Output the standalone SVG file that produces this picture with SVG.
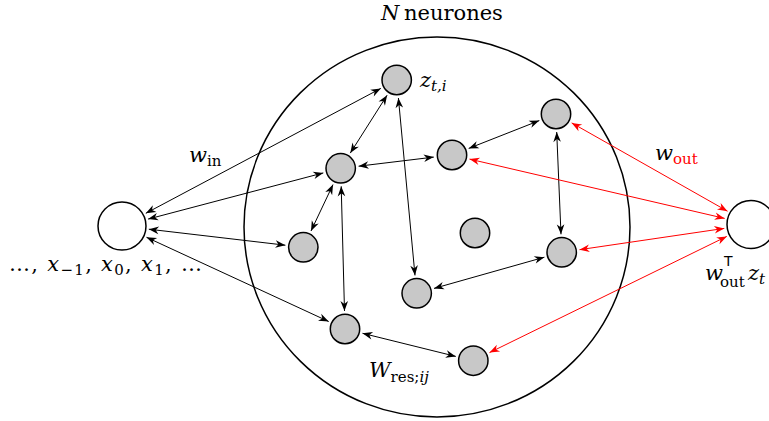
<svg xmlns="http://www.w3.org/2000/svg" width="769" height="421" viewBox="0 0 769 421">
<style>
  .res { fill: #c8c8c8; stroke: #000; stroke-width: 1.5; }
  .io { fill: #fff; stroke: #000; stroke-width: 1.5; }
  .big { fill: none; stroke: #000; stroke-width: 1.5; }
  .e { stroke: #000; stroke-width: 1; fill: none; marker-start: url(#ab); marker-end: url(#ab); }
  .r { stroke: #ff0000; stroke-width: 1; fill: none; marker-start: url(#ar); marker-end: url(#ar); }
  .lbl { font-family: "DejaVu Serif", serif; font-size: 21px; fill: #000; }
  .m { font-style: italic; }
  .sub { font-size: 15px; font-style: normal; }
  .subi { font-size: 15px; font-style: italic; }
  .sf { font-family: "DejaVu Sans", "Liberation Sans", sans-serif; font-size: 14px; }
</style>
<defs>
  <marker id="ab" viewBox="-11 -5 12 10" refX="0" refY="0" markerWidth="12" markerHeight="10" markerUnits="userSpaceOnUse" orient="auto-start-reverse">
    <path d="M0,0 L-10,-3.8 L-7,0 L-10,3.8 Z" fill="#000"/>
  </marker>
  <marker id="ar" viewBox="-11 -5 12 10" refX="0" refY="0" markerWidth="12" markerHeight="10" markerUnits="userSpaceOnUse" orient="auto-start-reverse">
    <path d="M0,0 L-10,-3.8 L-7,0 L-10,3.8 Z" fill="#ff0000"/>
  </marker>
</defs>

<g id="reservoir">
  <ellipse class="big" cx="437" cy="227" rx="193" ry="190"/>
</g>

<g id="connectors">
  <line class="e" x1="145.8" y1="213.3" x2="380.8" y2="88.4"/>
  <line class="e" x1="148.1" y1="219.1" x2="323.3" y2="172.9"/>
  <line class="e" x1="148.8" y1="229.2" x2="285.4" y2="245.2"/>
  <line class="e" x1="146.5" y1="237.3" x2="328.7" y2="321.5"/>
  <line class="e" x1="387.1" y1="95.2" x2="350.3" y2="153.1"/>
  <line class="e" x1="398.4" y1="98" x2="415" y2="275.4"/>
  <line class="e" x1="358.6" y1="166.2" x2="433.8" y2="157.1"/>
  <line class="e" x1="333" y1="184.6" x2="311" y2="231"/>
  <line class="e" x1="341.2" y1="186.3" x2="344.5" y2="311"/>
  <line class="e" x1="468.7" y1="148.4" x2="539.3" y2="120.6"/>
  <line class="e" x1="556.7" y1="132" x2="561" y2="234.3"/>
  <line class="e" x1="434" y1="288.4" x2="544.4" y2="257.2"/>
  <line class="e" x1="362.5" y1="333.3" x2="455.8" y2="356.4"/>
  <line class="r" x1="571.7" y1="122.9" x2="727.5" y2="211.2"/>
  <line class="r" x1="469.5" y1="159.1" x2="724.7" y2="218.4"/>
  <line class="r" x1="579.5" y1="249.7" x2="724.3" y2="228.4"/>
  <line class="r" x1="489.5" y1="352.6" x2="726.8" y2="236.4"/>
</g>

<g id="input"><circle class="io" cx="122" cy="226" r="24"/></g>
<g id="output"><circle class="io" cx="751" cy="224.5" r="24"/></g>

<g id="z"><circle class="res" cx="396.7" cy="80" r="14.7"/></g>
<g id="nA"><circle class="res" cx="340.7" cy="168.3" r="14.7"/></g>
<g id="nB"><circle class="res" cx="452" cy="155" r="14.7"/></g>
<g id="nC"><circle class="res" cx="556" cy="114" r="14.7"/></g>
<g id="nD"><circle class="res" cx="303.3" cy="247.3" r="14.7"/></g>
<g id="nE"><circle class="res" cx="475" cy="233" r="14.7"/></g>
<g id="nF"><circle class="res" cx="561.7" cy="252.3" r="14.7"/></g>
<g id="nG"><circle class="res" cx="416.7" cy="293.3" r="14.7"/></g>
<g id="nH"><circle class="res" cx="345" cy="329" r="14.7"/></g>
<g id="nI"><circle class="res" cx="473.3" cy="360.7" r="14.7"/></g>

<g id="labels">
  <text class="lbl" x="381" y="20"><tspan class="m">N</tspan><tspan x="404">neurones</tspan></text>
  <text class="lbl m" x="420" y="87">z<tspan class="subi" dy="4">t,i</tspan></text>
  <text class="lbl m" x="189" y="162">w<tspan class="sub" dy="4">in</tspan></text>
  <text class="lbl m" x="655" y="160" fill="#ff0000">w<tspan class="sub" dy="4" fill="#ff0000">out</tspan></text>
  <text class="lbl m" x="369" y="377">W<tspan class="sub" dy="5">res;</tspan><tspan class="subi">ij</tspan></text>
  <text class="lbl" x="9" y="271" textLength="193" lengthAdjust="spacing">…, <tspan class="m">x</tspan><tspan class="sub" dy="4">−1</tspan><tspan dy="-4">, </tspan><tspan class="m">x</tspan><tspan class="sub" dy="4">0</tspan><tspan dy="-4">, </tspan><tspan class="m">x</tspan><tspan class="sub" dy="4">1</tspan><tspan dy="-4">, …</tspan></text>
  <text class="lbl m" x="705" y="280">w</text>
  <text class="lbl sf" x="724" y="266">T</text>
  <text class="lbl sub" x="720" y="287">out</text>
  <text class="lbl m" x="748" y="280">z<tspan class="subi" dy="4">t</tspan></text>
</g>
</svg>
